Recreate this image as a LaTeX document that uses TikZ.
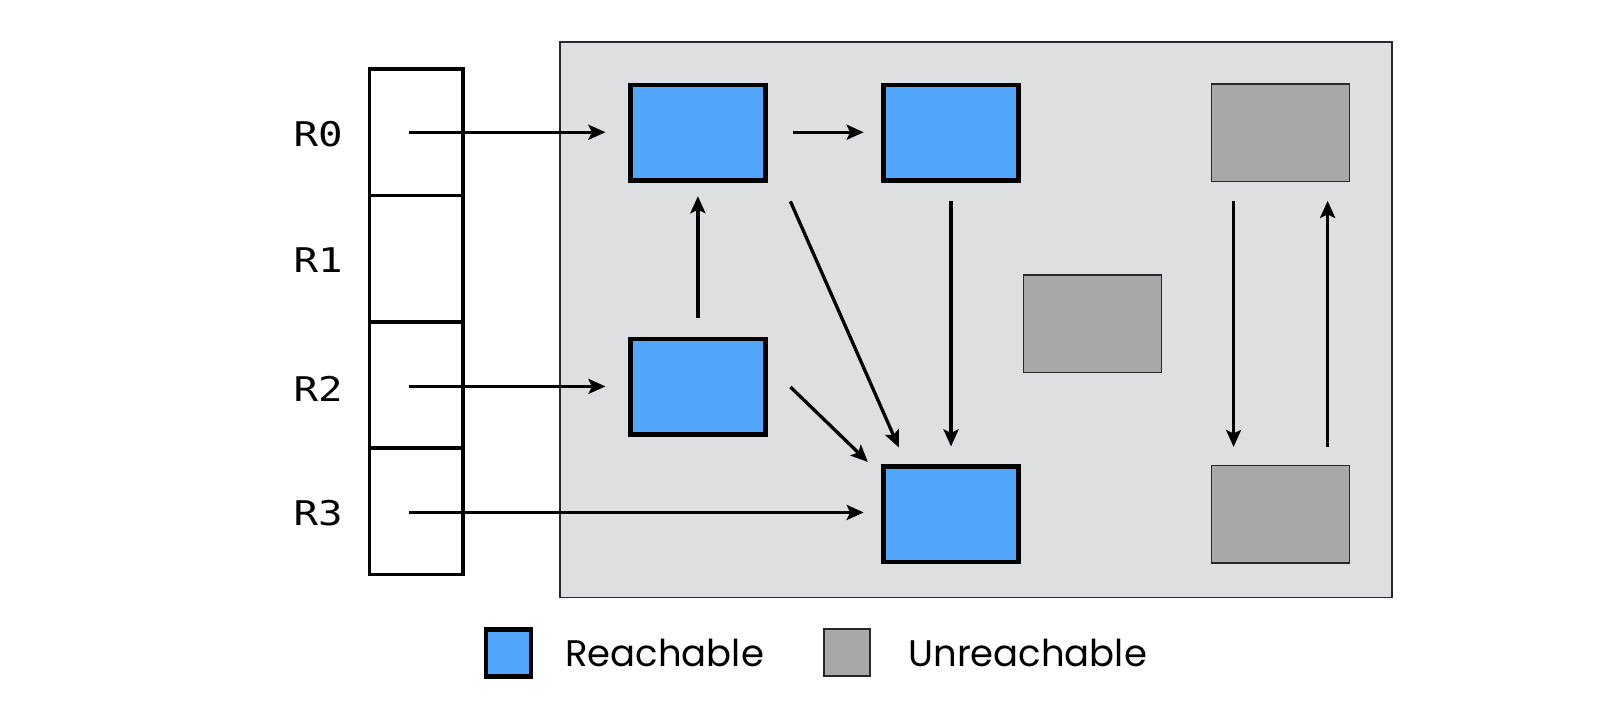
\documentclass[tikz,border=0pt]{standalone}
\usepackage{fontspec}
\setmainfont{Poppins}
\newfontfamily\monofont[FakeStretch=1.2]{DejaVu Sans Mono}
\usetikzlibrary{arrows.meta,calc}
\definecolor{reachblue}{RGB}{81,165,251}
\definecolor{unreachgray}{RGB}{166,169,168}
\definecolor{panelgray}{RGB}{222,223,225}
\definecolor{borderdark}{RGB}{40,40,40}
\tikzset{
  reach/.style={draw=black,line width=4.5pt,fill=reachblue,minimum width=135pt,minimum height=95.5pt,inner sep=0pt},
  unreach/.style={draw=borderdark,line width=1.5pt,fill=unreachgray,minimum width=138pt,minimum height=97.5pt,inner sep=0pt},
  cell/.style={draw=black,line width=3.5pt,minimum width=93.5pt,minimum height=126.5pt,inner sep=0pt},
  reglabel/.style={font=\monofont\fontsize{34}{40}\selectfont,inner sep=0pt},
  legendtext/.style={font=\fontsize{37}{44}\selectfont,anchor=west,inner sep=0pt},
  conn/.style={line width=3.3pt,-{Stealth[length=17pt,width=15pt,inset=3.5pt]}},
}
\begin{document}
\begin{tikzpicture}[x=1.0331pt,y=-1.0331pt]
\useasboundingbox (0,0) rectangle (1568,697);
% panel
\node[draw=borderdark,line width=1.5pt,fill=panelgray,minimum width=832pt,minimum height=555pt,inner sep=0pt] (panel) at (944.5,309.5) {};
% register cells
\node[cell] (r0) at (403,128) {};
\node[cell] (r1) at (403,250.5) {};
\node[cell] (r2) at (403,373) {};
\node[cell] (r3) at (403,495) {};
\node[reglabel] (l0) at (308,130) {R0};
\node[reglabel] (l1) at (308,252) {R1};
\node[reglabel] (l2) at (308,376) {R2};
\node[reglabel] (l3) at (308,497) {R3};
% objects
\node[reach] (A) at (675.5,128.5) {};
\node[reach] (B) at (920.5,128.5) {};
\node[reach] (C) at (675.5,374.5) {};
\node[reach] (D) at (920.5,497.5) {};
\node[unreach] (E) at (1239.5,128.5) {};
\node[unreach] (F) at (1057.5,313.5) {};
\node[unreach] (G) at (1239.5,497.5) {};
% connectors
\draw[conn] ($(r0.center)+(-7,0)$) -- ($(A.west)+(-22,-0.5)$);
\draw[conn] ($(r2.center)+(-7,1)$) -- ($(C.west)+(-22,-0.5)$);
\draw[conn] ($(r3.center)+(-7,1)$) -- ($(D.west)+(-17,-1.5)$);
\draw[conn] ($(A.east)+(25,-0.5)$) -- ($(B.west)+(-17,-0.5)$);
\draw[conn] ($(C.north)+(0,-18)$) -- ($(A.south)+(0,13)$);
\draw[conn] ($(A.south east)+(22,18)$) -- ($(D.north west)+(17,-16)$);
\draw[conn] ($(B.south)+(0,18)$) -- ($(D.north)+(0,-17)$);
\draw[conn] ($(C.east)+(22,0)$) -- ($(D.north west)+(-13,-2)$);
\draw[conn] ($(E.south west)+(22,18)$) -- ($(G.north west)+(22,-17)$);
\draw[conn] ($(G.north east)+(-22,-17)$) -- ($(E.south east)+(-22,18)$);
% legend
\node[reach,minimum width=45pt,minimum height=47pt] (lgA) at (492,632) {};
\node[legendtext] (lgAt) at (547,632) {Reachable};
\node[unreach,minimum width=46pt,minimum height=47pt] (lgB) at (820,631.5) {};
\node[legendtext] (lgBt) at (879,632) {Unreachable};
\end{tikzpicture}
\end{document}
